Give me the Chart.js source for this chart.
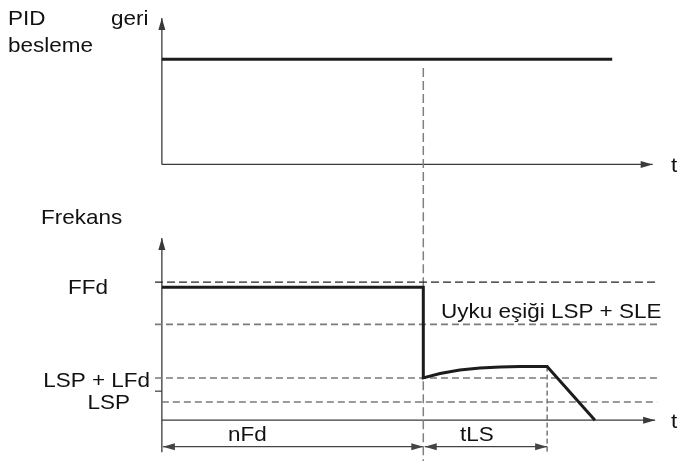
<!DOCTYPE html>
<html lang="tr">
<head>
<meta charset="UTF-8" />
<title>PID uyku modu</title>
<script src="https://cdn.jsdelivr.net/npm/chart.js"></script>
<style>
  html, body { margin: 0; padding: 0; background: #fff; }
  #wrap { position: relative; width: 680px; height: 461px; overflow: hidden; }
  canvas { position: absolute; left: 0; }
  #topChart { top: 0; }
  #bottomChart { top: 200px; }
</style>
</head>
<body>
<div id="wrap">
  <canvas id="topChart" width="680" height="200"></canvas>
  <canvas id="bottomChart" width="680" height="261"></canvas>
</div>
<script>
// zaman ekseni keyfi birimde (0 .. 10)
const pidTime = [0, 9.13];
const pidValue = [7.4, 7.4];

const freqTime  = [0, 5.3, 5.3, 5.64, 6.04, 6.45, 6.86, 7.26, 7.81, 8.78];
const freqValue = [48.2, 48.2, 15.3, 16.9, 18.2, 18.9, 19.3, 19.4, 19.4, 0];

const levelNames  = ['FFd', 'Uyku eşiği LSP + SLE', 'LSP + LFd', 'LSP'];
const levelValues = [50, 34.7, 15.3, 6.6];
const levelStart  = [-0.14, -0.14, -0.14, 0];
const levelEnd    = 10.04;
const lspTick = 10.5;

const sleepTime = 5.3;   // nFd sonu
const tlsEnd = 7.81;     // tLS sonu
const axisEnd = 10;

const FONT = '21px "Liberation Sans", Arial, sans-serif';

function pts(xs, ys) { return xs.map((x, i) => ({ x, y: ys[i] })); }

function line(data, color, width, dash) {
  return { data, borderColor: color, borderWidth: width, borderDash: dash || [],
           pointRadius: 0, tension: 0, fill: false, clip: false };
}

function head(ctx, x, y, dx, dy) {
  const len = 12, half = 3.5;
  const d = Math.hypot(dx, dy); dx /= d; dy /= d;
  ctx.beginPath();
  ctx.moveTo(x, y);
  ctx.lineTo(x - dx * len - dy * half, y - dy * len + dx * half);
  ctx.lineTo(x - dx * len + dy * half, y - dy * len - dx * half);
  ctx.closePath();
  ctx.fill();
}

// eksenler, ölçü okları ve yazılar (kanvas kimliğine göre)
const extras = {};

const arrowPlugin = {
  id: 'arrows',
  beforeDatasetsDraw(chart) {
    const ctx = chart.ctx, xs = chart.scales.x, ys = chart.scales.y;
    ctx.save();
    extras[chart.canvas.id].arrows.forEach(a => {
      const x1 = xs.getPixelForValue(a.from[0]), y1 = ys.getPixelForValue(a.from[1]);
      const x2 = xs.getPixelForValue(a.to[0]), y2 = ys.getPixelForValue(a.to[1]);
      ctx.strokeStyle = a.color; ctx.fillStyle = a.color; ctx.lineWidth = a.width;
      ctx.beginPath(); ctx.moveTo(x1, y1); ctx.lineTo(x2, y2); ctx.stroke();
      head(ctx, x2, y2, x2 - x1, y2 - y1);
      if (a.both) head(ctx, x1, y1, x1 - x2, y1 - y2);
    });
    ctx.restore();
  },
  afterDraw(chart) {
    const ctx = chart.ctx;
    ctx.save();
    ctx.font = FONT; ctx.fillStyle = '#111'; ctx.textBaseline = 'alphabetic';
    extras[chart.canvas.id].labels.forEach(l => {
      const p = l.at(chart.scales.x, chart.scales.y);
      ctx.save();
      ctx.translate(p[0], p[1]);
      ctx.scale(1.07, 1);
      ctx.textAlign = l.align || 'left';
      ctx.fillText(l.text, 0, 0);
      ctx.restore();
    });
    ctx.restore();
  }
};

function options(yMin, yMax, padTop) {
  return {
    responsive: false, animation: false, devicePixelRatio: 1,
    layout: { padding: { left: 152, right: 15, top: padTop, bottom: 0 } },
    plugins: { legend: { display: false }, tooltip: { enabled: false } },
    scales: {
      x: { type: 'linear', min: -0.2, max: 10.2, display: false },
      y: { type: 'linear', min: yMin, max: yMax, display: false }
    }
  };
}

const AX = '#3a3a3a';

extras.topChart = {
  arrows: [
    { from: [0, 0], to: [0, 10.3], color: AX, width: 1.3 },
    { from: [0, 0], to: [9.95, 0], color: AX, width: 1.3 }
  ],
  labels: [
    { text: 'PID', at: () => [8, 25] },
    { text: 'geri', at: () => [111, 25] },
    { text: 'besleme', at: () => [8, 52] },
    { text: 't', at: (x, y) => [671, y.getPixelForValue(0) + 8] }
  ]
};

extras.bottomChart = {
  arrows: [
    { from: [0, -11.6], to: [0, 66], color: AX, width: 1.3 },
    { from: [0, 0], to: [axisEnd, 0], color: AX, width: 1.3 },
    { from: [0.02, -9.6], to: [sleepTime, -9.6], color: '#444', width: 1.2, both: true },
    { from: [sleepTime + 0.03, -9.6], to: [tlsEnd, -9.6], color: '#444', width: 1.2, both: true }
  ],
  labels: [
    { text: 'Frekans', at: () => [41, 24] },
    { text: levelNames[0], align: 'right', at: (x, y) => [108, y.getPixelForValue(levelValues[0]) + 12] },
    { text: levelNames[1], at: (x, y) => [441, y.getPixelForValue(levelValues[1]) - 6] },
    { text: levelNames[2], align: 'right', at: (x, y) => [150, y.getPixelForValue(levelValues[2]) + 9] },
    { text: levelNames[3], align: 'right', at: (x, y) => [130, y.getPixelForValue(levelValues[3]) + 7] },
    { text: 'nFd', at: (x, y) => [228, y.getPixelForValue(-9.6) - 6] },
    { text: 'tLS', at: (x, y) => [460, y.getPixelForValue(-9.6) - 6] },
    { text: 't', at: (x, y) => [671, y.getPixelForValue(0) + 8] }
  ]
};

// üst grafik: PID geri besleme
new Chart(document.getElementById('topChart'), {
  type: 'line',
  data: { datasets: [
    line(pts(pidTime, pidValue), '#1c1c1c', 3),
    line([{ x: sleepTime, y: 6.78 }, { x: sleepTime, y: -3 }], '#808080', 1.5, [9, 4])
  ] },
  options: options(-2.5, 10.3, 18),
  plugins: [arrowPlugin]
});

// alt grafik: frekans
const levelSets = levelValues.map((v, i) => line(
  [{ x: levelStart[i], y: v }, { x: levelEnd, y: v }],
  i === 0 ? '#222' : '#7a7a7a', i === 0 ? 1.2 : 1.6, i === 0 ? [8, 4] : [7, 4]));

new Chart(document.getElementById('bottomChart'), {
  type: 'line',
  data: { datasets: [
    line(pts(freqTime, freqValue), '#1c1c1c', 3),
    ...levelSets,
    line([{ x: -0.14, y: lspTick }, { x: 0, y: lspTick }], AX, 1.2),
    line([{ x: sleepTime, y: 80 }, { x: sleepTime, y: -15 }], '#808080', 1.5, [9, 4]),
    line([{ x: tlsEnd, y: 19.4 }, { x: tlsEnd, y: -11.6 }], '#333', 1, [5, 3])
  ] },
  options: options(-14.8, 66, 38),
  plugins: [arrowPlugin]
});
</script>
</body>
</html>
